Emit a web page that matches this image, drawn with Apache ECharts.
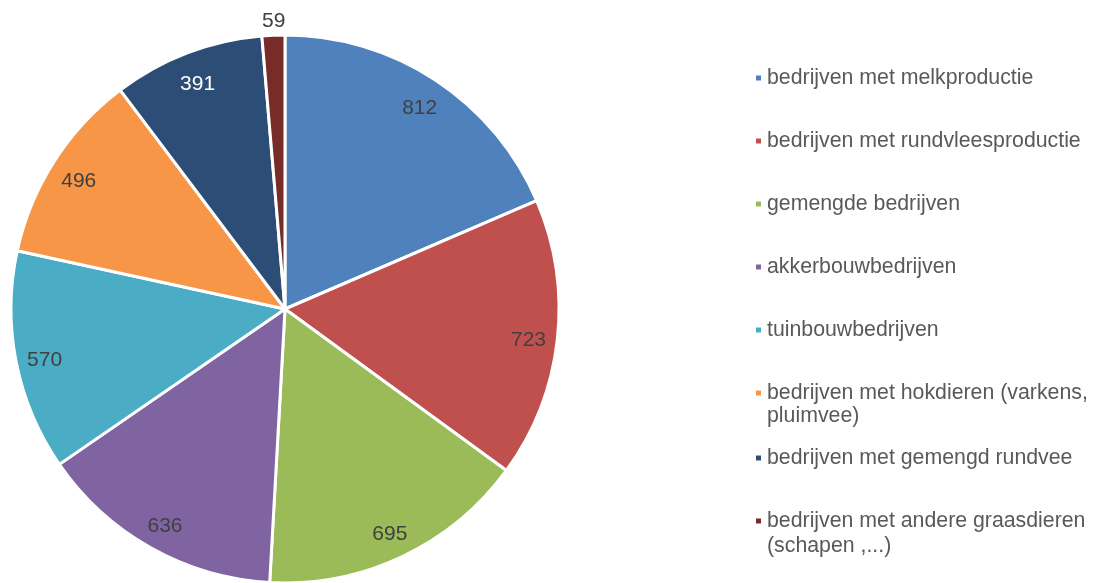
<!DOCTYPE html>
<html>
<head>
<meta charset="utf-8">
<script src="https://cdn.jsdelivr.net/npm/echarts@6/dist/echarts.min.js"></script>
<style>
html,body{margin:0;padding:0;background:#fff;}
#chart{width:1104px;height:583px;}
</style>
</head>
<body>
<div id="chart"></div>
<script>
const categories = [
  'bedrijven met melkproductie',
  'bedrijven met rundvleesproductie',
  'gemengde bedrijven',
  'akkerbouwbedrijven',
  'tuinbouwbedrijven',
  'bedrijven met hokdieren (varkens, pluimvee)',
  'bedrijven met gemengd rundvee',
  'bedrijven met andere graasdieren (schapen ,...)'
];
const values = [812, 723, 695, 636, 570, 496, 391, 59];
const colors = ['#4F81BD', '#C0504D', '#9BBB59', '#8064A2', '#4BACC6', '#F79646', '#2C4D75', '#772C2A'];
const labelColors = ['#404040', '#404040', '#404040', '#404040', '#404040', '#404040', '#FFFFFF', '#404040'];
const legendLines = [
  ['bedrijven met melkproductie'],
  ['bedrijven met rundvleesproductie'],
  ['gemengde bedrijven'],
  ['akkerbouwbedrijven'],
  ['tuinbouwbedrijven'],
  ['bedrijven met hokdieren (varkens,', 'pluimvee)'],
  ['bedrijven met gemengd rundvee'],
  ['bedrijven met andere graasdieren', '(schapen ,...)']
];
const legendY = [78, 141, 204, 267, 330, 393, 458, 521];
const legendLH = [23, 23, 23, 23, 23, 23, 23, 25];

const font = 'Liberation Sans, Arial, sans-serif';
const chart = echarts.init(document.getElementById('chart'));

const legends = categories.map((name, i) => {
  const lines = legendLines[i];
  const lh = legendLH[i];
  const multi = lines.length > 1;
  return {
    orient: 'vertical',
    left: 754,
    top: multi ? legendY[i] - lh * 1.5 : legendY[i] - lh / 2,
    padding: 0,
    itemWidth: 7,
    itemHeight: 7,
    icon: 'rect',
    selectedMode: false,
    formatter: () => (multi ? '\n' : '') + lines.join('\n'),
    textStyle: {
      fontFamily: font,
      fontSize: 21.3,
      color: '#595959',
      lineHeight: lh
    },
    data: [name]
  };
});

const pieData = categories.map((name, i) => ({
  name: name,
  value: values[i],
  itemStyle: { color: colors[i] }
}));

const labelData = categories.map((name, i) => {
  const d = { name: name, value: values[i], label: { color: labelColors[i] } };
  if (i === values.length - 1) {
    d.label.offset = [-1, -43];
  }
  return d;
});

chart.setOption({
  animation: false,
  legend: legends,
  series: [
    {
      type: 'pie',
      center: [285, 309],
      radius: [0, 274],
      startAngle: 90,
      clockwise: true,
      silent: true,
      itemStyle: { borderColor: '#ffffff', borderWidth: 3 },
      label: { show: false },
      labelLine: { show: false },
      emphasis: { disabled: true },
      data: pieData
    },
    {
      type: 'pie',
      center: [285, 309],
      radius: [210, 274],
      startAngle: 90,
      clockwise: true,
      silent: true,
      legendHoverLink: false,
      itemStyle: { color: 'rgba(0,0,0,0)', borderWidth: 0 },
      label: {
        show: true,
        position: 'inside',
        formatter: '{c}',
        fontFamily: font,
        fontSize: 21,
        color: '#404040',
        offset: [0, 4]
      },
      labelLine: { show: false },
      emphasis: { disabled: true },
      data: labelData
    }
  ]
});
</script>
</body>
</html>
